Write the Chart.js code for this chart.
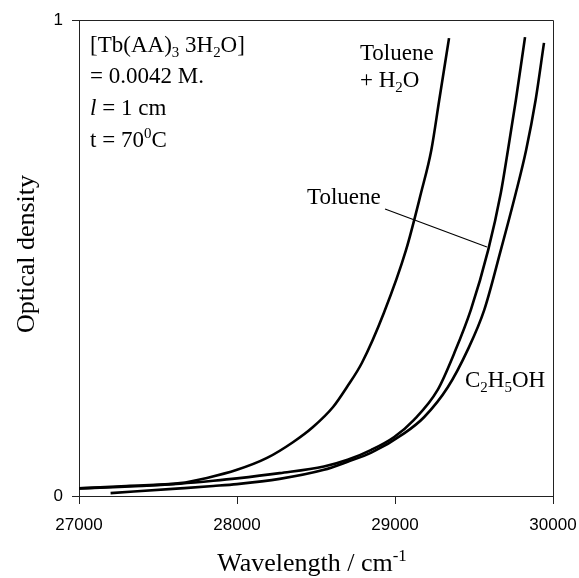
<!DOCTYPE html>
<html>
<head>
<meta charset="utf-8">
<script src="https://cdn.jsdelivr.net/npm/chart.js@4/dist/chart.umd.min.js"></script>
<style>
  body { margin: 0; background: #fff; }
  canvas { display: block; }
</style>
</head>
<body>
<canvas id="graph" width="579" height="578"></canvas>
<script>
// data (wavenumber in cm-1, optical density)
const tolWaterWn = [27000, 27300, 27640, 27810, 28000, 28190, 28354, 28481, 28608, 28696, 28791, 28930, 29070, 29165, 29230, 29280, 29342];
const tolWaterOd = [0.016, 0.021, 0.027, 0.038, 0.055, 0.080, 0.113, 0.145, 0.187, 0.229, 0.280, 0.385, 0.517, 0.637, 0.727, 0.832, 0.962];

const tolWn = [27000, 27400, 27640, 27850, 28000, 28270, 28550, 28700, 28850, 28995, 29120, 29270, 29375, 29480, 29590, 29670, 29715, 29765, 29823];
const tolOd = [0.016, 0.021, 0.026, 0.032, 0.037, 0.048, 0.062, 0.076, 0.097, 0.124, 0.160, 0.223, 0.300, 0.391, 0.517, 0.637, 0.727, 0.832, 0.964];

const ethWn = [27200, 27640, 27850, 28000, 28270, 28550, 28700, 28850, 29060, 29185, 29335, 29460, 29565, 29670, 29765, 29830, 29890, 29943];
const ethOd = [0.006, 0.016, 0.021, 0.025, 0.036, 0.055, 0.072, 0.091, 0.132, 0.166, 0.229, 0.307, 0.391, 0.517, 0.637, 0.727, 0.832, 0.952];

const xTicks = [27000, 28000, 29000, 30000];
const yTicks = [0, 1];

const serif = "'Liberation Serif', 'Times New Roman', serif";
const sans = "'Liberation Sans', Arial, sans-serif";

function pts(xs, ys) {
  return xs.map((x, i) => ({ x: x, y: ys[i] }));
}

function curve(label, xs, ys) {
  return {
    label: label,
    data: pts(xs, ys),
    borderColor: "#000",
    borderWidth: 2.6,
    pointRadius: 0,
    fill: false,
    cubicInterpolationMode: "monotone",
  };
}

// text with sub / superscripts, italic pieces
function drawRich(ctx, x, y, parts, size) {
  let cx = x;
  for (const [txt, kind] of parts) {
    let fs = size, dy = 0, style = "";
    if (kind === "sub") { fs = size * 0.65; dy = size * 0.22; }
    if (kind === "sup") { fs = size * 0.65; dy = -size * 0.38; }
    if (kind === "i") style = "italic ";
    ctx.font = style + fs + "px " + serif;
    ctx.fillText(txt, cx, y + dy);
    cx += ctx.measureText(txt).width;
  }
}

const notes = {
  id: "notes",
  afterDraw(chart) {
    const { ctx, chartArea: a, scales } = chart;
    const X = (v) => scales.x.getPixelForValue(v);
    const Y = (v) => scales.y.getPixelForValue(v);
    ctx.save();
    // frame
    ctx.strokeStyle = "#222";
    ctx.lineWidth = 1;
    ctx.beginPath();
    ctx.moveTo(a.left, a.top + 0.5);
    ctx.lineTo(a.right + 0.5, a.top + 0.5);
    ctx.lineTo(a.right + 0.5, a.bottom);
    ctx.stroke();

    ctx.fillStyle = "#000";
    ctx.textAlign = "left";
    ctx.textBaseline = "alphabetic";
    const fs = 23;
    drawRich(ctx, X(27070), Y(0.933), [["[Tb(AA)", "n"], ["3", "sub"], [" 3H", "n"], ["2", "sub"], ["O]", "n"]], fs);
    drawRich(ctx, X(27070), Y(0.868), [["= 0.0042 M.", "n"]], fs);
    drawRich(ctx, X(27070), Y(0.800), [["l", "i"], [" = 1 cm", "n"]], fs);
    drawRich(ctx, X(27070), Y(0.733), [["t = 70", "n"], ["0", "sup"], ["C", "n"]], fs);

    drawRich(ctx, X(28778), Y(0.916), [["Toluene", "n"]], fs);
    drawRich(ctx, X(28778), Y(0.859), [["+ H", "n"], ["2", "sub"], ["O", "n"]], fs);

    drawRich(ctx, X(28443), Y(0.613), [["Toluene", "n"]], fs);
    ctx.beginPath();
    ctx.lineWidth = 1.2;
    ctx.strokeStyle = "#000";
    ctx.moveTo(X(28937), Y(0.603));
    ctx.lineTo(X(29582), Y(0.523));
    ctx.stroke();

    drawRich(ctx, X(29443), Y(0.229), [["C", "n"], ["2", "sub"], ["H", "n"], ["5", "sub"], ["OH", "n"]], fs);

    // axis titles
    const tfs = 26;
    const main = "Wavelength / cm";
    ctx.font = tfs + "px " + serif;
    const w1 = ctx.measureText(main).width;
    ctx.font = tfs * 0.65 + "px " + serif;
    const w2 = ctx.measureText("-1").width;
    const cx = (a.left + a.right) / 2 - 4;
    const sx = cx - (w1 + w2) / 2;
    drawRich(ctx, sx, 571, [[main, "n"], ["-1", "sup"]], tfs);

    ctx.save();
    ctx.translate(34, (a.top + a.bottom) / 2 - 4);
    ctx.rotate(-Math.PI / 2);
    ctx.textAlign = "center";
    ctx.font = tfs + "px " + serif;
    ctx.fillText("Optical density", 0, 0);
    ctx.restore();
    ctx.restore();
  },
};

const chart = new Chart(document.getElementById("graph"), {
  type: "line",
  data: {
    datasets: [
      curve("Toluene + H2O", tolWaterWn, tolWaterOd),
      curve("Toluene", tolWn, tolOd),
      curve("C2H5OH", ethWn, ethOd),
    ],
  },
  options: {
    responsive: false,
    animation: false,
    layout: { padding: { top: 20, right: 26, left: 0, bottom: 0 } },
    plugins: { legend: { display: false }, tooltip: { enabled: false } },
    scales: {
      x: {
        type: "linear",
        min: xTicks[0],
        max: xTicks[xTicks.length - 1],
        afterBuildTicks: (s) => { s.ticks = xTicks.map((v) => ({ value: v })); },
        afterFit: (s) => { s.height = 82; s.paddingLeft = 0; s.paddingRight = 0; },
        ticks: {
          callback: (v) => String(v),
          color: "#000",
          font: { family: sans, size: 17 },
          padding: 11,
          maxRotation: 0,
        },
        grid: { drawOnChartArea: false, drawTicks: true, tickLength: 8, color: "#222" },
        border: { display: true, color: "#222" },
      },
      y: {
        min: yTicks[0],
        max: yTicks[yTicks.length - 1],
        afterBuildTicks: (s) => { s.ticks = yTicks.map((v) => ({ value: v })); },
        afterFit: (s) => { s.width = 79; s.paddingTop = 0; s.paddingBottom = 0; },
        ticks: {
          callback: (v) => String(v),
          color: "#000",
          font: { family: sans, size: 17 },
          padding: 9,
        },
        grid: { drawOnChartArea: false, drawTicks: true, tickLength: 7, color: "#222" },
        border: { display: true, color: "#222" },
      },
    },
  },
  plugins: [notes],
});
</script>
</body>
</html>
